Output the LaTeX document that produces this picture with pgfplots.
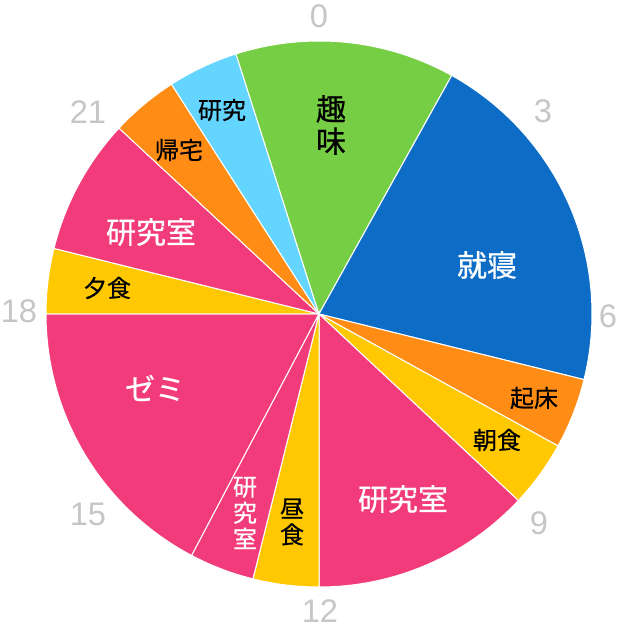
\documentclass[border=0pt]{standalone}
\usepackage{pgfplots}
\pgfplotsset{compat=1.18}
\usepackage{fontspec}
\setmainfont{Liberation Sans}
\newfontfamily\jp[FakeBold=0.6]{Noto Sans CJK JP}

\definecolor{cGreen}{HTML}{76CE45}
\definecolor{cBlue}{HTML}{0D6DC6}
\definecolor{cOrange}{HTML}{FF8C14}
\definecolor{cYellow}{HTML}{FFC800}
\definecolor{cPink}{HTML}{F23B7A}
\definecolor{cSky}{HTML}{64D5FF}
\definecolor{cHour}{HTML}{C6C6C6}

% one pixel of the reference = 0.75pt; the axis works in pixels, centre of the clock at (0,0)
\newcommand{\lblbig}{\jp\fontsize{22.5}{24}\selectfont}
\newcommand{\lblsmall}{\jp\fontsize{18}{19.5}\selectfont}

\begin{document}
\begin{tikzpicture}
  \useasboundingbox (0,0) rectangle (464.25pt,471.75pt);
  \begin{axis}[
      at={(0,0)}, anchor=south west,
      width=464.25pt, height=471.75pt, scale only axis,
      xmin=-319, xmax=300, ymin=-315, ymax=314,
      hide axis, clip=false,
      slice/.style={draw=white, line width=0.75pt, samples=60, variable=\t},
    ]
    % slices: angles in degrees, clockwise from 0 o'clock (15 degrees = 1 hour)
    \addplot[slice, fill=cPink,   domain=207.8:270.0] ({273*sin(\t)},{273*cos(\t)}) -- (0,0) -- cycle; % ゼミ
    \addplot[slice, fill=cYellow, domain=270.0:283.9] ({273*sin(\t)},{273*cos(\t)}) -- (0,0) -- cycle; % 夕食
    \addplot[slice, fill=cPink,   domain=283.9:312.9] ({273*sin(\t)},{273*cos(\t)}) -- (0,0) -- cycle; % 研究室
    \addplot[slice, fill=cOrange, domain=312.9:327.3] ({273*sin(\t)},{273*cos(\t)}) -- (0,0) -- cycle; % 帰宅
    \addplot[slice, fill=cSky,    domain=327.3:342.3] ({273*sin(\t)},{273*cos(\t)}) -- (0,0) -- cycle; % 研究
    \addplot[slice, fill=cGreen,  domain=342.3:389.1] ({273*sin(\t)},{273*cos(\t)}) -- (0,0) -- cycle; % 趣味
    \addplot[slice, fill=cBlue,   domain=29.1:103.9]  ({273*sin(\t)},{273*cos(\t)}) -- (0,0) -- cycle; % 就寝
    \addplot[slice, fill=cOrange, domain=103.9:118.9] ({273*sin(\t)},{273*cos(\t)}) -- (0,0) -- cycle; % 起床
    \addplot[slice, fill=cYellow, domain=118.9:133.1] ({273*sin(\t)},{273*cos(\t)}) -- (0,0) -- cycle; % 朝食
    \addplot[slice, fill=cPink,   domain=133.1:180.0] ({273*sin(\t)},{273*cos(\t)}) -- (0,0) -- cycle; % 研究室
    \addplot[slice, fill=cYellow, domain=180.0:194.0] ({273*sin(\t)},{273*cos(\t)}) -- (0,0) -- cycle; % 昼食
    \addplot[slice, fill=cPink,   domain=194.0:207.8] ({273*sin(\t)},{273*cos(\t)}) -- (0,0) -- cycle; % 研究室

    % slice labels
    \node[font=\lblbig, align=center] at (12,189) {趣\\味};
    \node[font=\lblbig, text=white] at (168,49) {就寝};
    \node[font=\lblsmall] at (215,-84) {起床};
    \node[font=\lblsmall] at (178,-126) {朝食};
    \node[font=\lblbig, text=white] at (84,-185) {研究室};
    \node[font=\lblsmall, align=center] at (-27,-208) {昼\\食};
    \node[font=\lblsmall, text=white, align=center] at (-74,-199) {研\\究\\室};
    \node[font=\lblbig, text=white] at (-164,-74) {ゼミ};
    \node[font=\lblsmall] at (-212,26) {夕食};
    \node[font=\lblbig, text=white] at (-168,82) {研究室};
    \node[font=\lblsmall] at (-140,164) {帰宅};
    \node[font=\lblsmall] at (-97,204) {研究};

    % hour marks
    \begin{scope}[every node/.style={text=cHour, font=\fontsize{24.5}{24.5}\selectfont}]
      \node at (0,298) {0};
      \node at (224,203) {3};
      \node at (289,-2) {6};
      \node at (220,-209) {9};
      \node at (1,-297) {12};
      \node at (-231,-200) {15};
      \node at (-300,3) {18};
      \node at (-231,202) {21};
    \end{scope}
  \end{axis}
\end{tikzpicture}
\end{document}
